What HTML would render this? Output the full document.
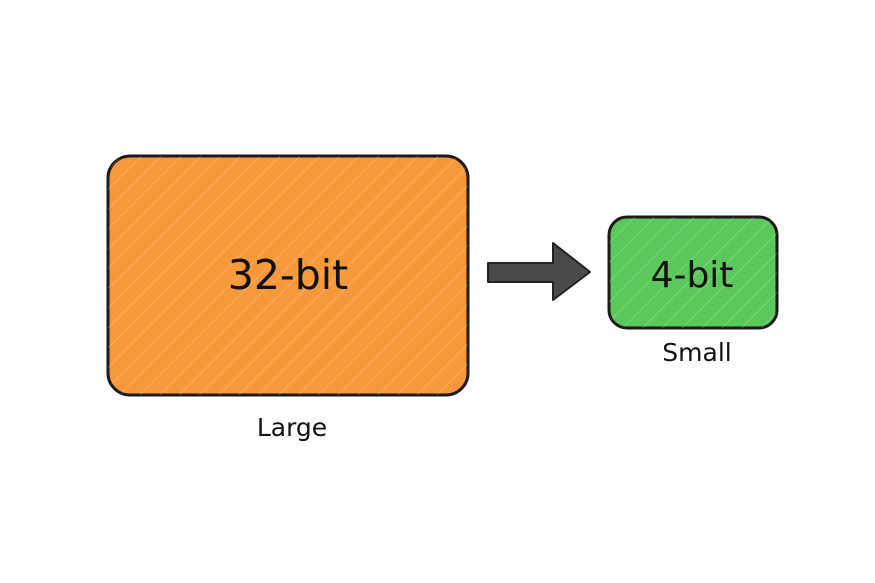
<!DOCTYPE html>
<html><head><meta charset="utf-8"><style>
html,body{margin:0;padding:0;background:#fff;}
svg{display:block;}
text{font-family:"DejaVu Sans","Liberation Sans",sans-serif;fill:#111;}
</style></head><body>
<svg width="875" height="583" viewBox="0 0 875 583" xmlns="http://www.w3.org/2000/svg">
<defs>
<pattern id="hatch" width="14" height="14" patternUnits="userSpaceOnUse" patternTransform="rotate(45)">
<line x1="0" y1="0" x2="0" y2="14" stroke="#fff" stroke-width="1.2" opacity="0.35"/>
</pattern>
</defs>
<rect x="108" y="156" width="360" height="239" rx="22" fill="#f7983a" stroke="#1a1a1a" stroke-width="3"/>
<rect x="108" y="156" width="360" height="239" rx="22" fill="url(#hatch)"/>
<text x="288" y="289" font-size="41" text-anchor="middle">32-bit</text>
<text x="292" y="436" font-size="25" text-anchor="middle">Large</text>
<path d="M488 263 L553 263 L553 243 L590 272 L553 300 L553 282 L488 282 Z" fill="#4a4a4a" stroke="#222" stroke-width="2" stroke-linejoin="round"/>
<rect x="609" y="217" width="168" height="111" rx="18" fill="#5bc85b" stroke="#1a1a1a" stroke-width="3"/>
<rect x="609" y="217" width="168" height="111" rx="18" fill="url(#hatch)"/>
<text x="692" y="287" font-size="36" text-anchor="middle">4-bit</text>
<text x="697" y="361" font-size="25" text-anchor="middle">Small</text>
</svg>
</body></html>
